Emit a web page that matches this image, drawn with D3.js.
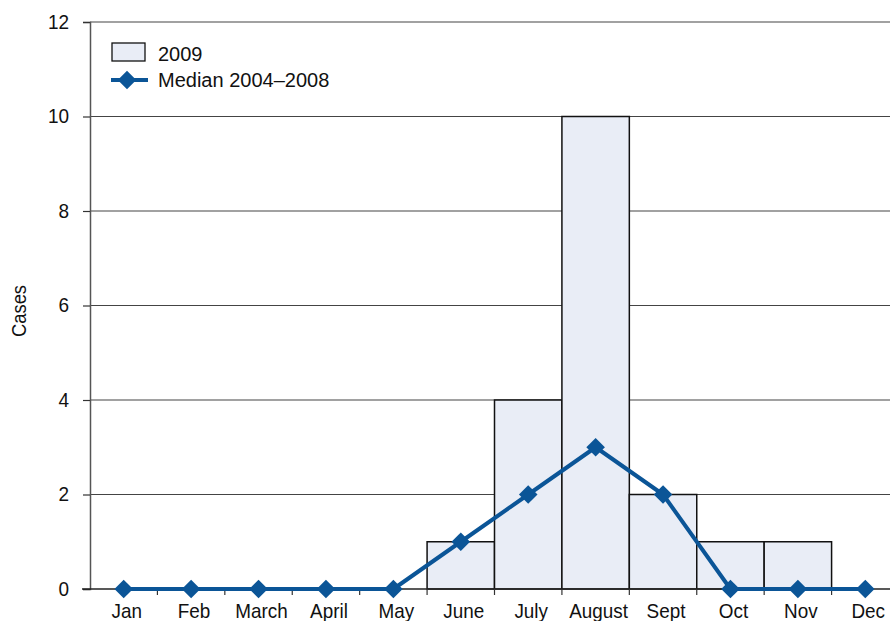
<!DOCTYPE html>
<html><head><meta charset="utf-8">
<script src="https://cdn.jsdelivr.net/npm/d3@7"></script>
<style>
body{margin:0;background:#fff;}
svg{display:block;font-family:"Liberation Sans",Arial,sans-serif;}
</style></head>
<body><svg id="c" width="890" height="621"></svg>
<script>
const months = ["Jan","Feb","March","April","May","June","July","August","Sept","Oct","Nov","Dec"];
const cases2009 = [0,0,0,0,0,1,4,10,2,1,1,0];
const median0408 = [0,0,0,0,0,1,2,3,2,0,0,0];
const yTicks = [0,2,4,6,8,10,12];

(function(){
const svg = d3.select("#c");
const mLeft = 90, mRight = 899, mTop = 22, mBottom = 589;
const x = d3.scaleBand().domain(months).range([mLeft, mRight]).padding(0);
const y = d3.scaleLinear().domain([0,12]).range([mBottom, mTop]);
const lineColor = "#0b5597";

// gridlines
svg.append("g").selectAll("line").data(yTicks.filter(d=>d>0)).join("line")
  .attr("x1", mLeft).attr("x2", 890).attr("y1", d=>y(d)).attr("y2", d=>y(d))
  .attr("stroke", "#444").attr("stroke-width", 1.2);

// bars
svg.append("g").selectAll("rect").data(months.map((m,i)=>({m, v:cases2009[i]})).filter(d=>d.v>0)).join("rect")
  .attr("x", d=>x(d.m)).attr("width", x.bandwidth())
  .attr("y", d=>y(d.v)).attr("height", d=>y(0)-y(d.v))
  .attr("fill", "#e9edf6").attr("stroke", "#111").attr("stroke-width", 1.5);

// y axis
const yAxis = svg.append("g").attr("transform", `translate(${mLeft},0)`)
  .call(d3.axisLeft(y).tickValues(yTicks).tickSize(7).tickPadding(15));
yAxis.select(".domain").attr("stroke", "#555").attr("stroke-width", 1.5);
yAxis.selectAll(".tick line").attr("stroke", "#333").attr("stroke-width", 1.2);
yAxis.selectAll("text").attr("font-size", 20).attr("fill", "#111").attr("font-family", "inherit")
  .attr("transform", "scale(0.95,1)");

// x axis
const xAxis = svg.append("g").attr("transform", `translate(0,${mBottom})`)
  .call(d3.axisBottom(x).tickSize(0).tickPadding(12));
xAxis.select(".domain").remove();
xAxis.selectAll("text").attr("font-size", 21).attr("fill", "#111").attr("font-family", "inherit")
  .attr("y", 29).attr("dy", 0).attr("x", 3.3).attr("transform", "scale(0.9,1)");
svg.append("line").attr("x1", mLeft-8).attr("x2", 890).attr("y1", mBottom).attr("y2", mBottom)
  .attr("stroke", "#222").attr("stroke-width", 1.5);
svg.append("g").selectAll("line").data(months.slice(1)).join("line")
  .attr("x1", d=>x(d)).attr("x2", d=>x(d)).attr("y1", mBottom).attr("y2", mBottom+6)
  .attr("stroke", "#333").attr("stroke-width", 1.2);

// median line
const line = d3.line().x((d,i)=>x(months[i])+x.bandwidth()/2).y(d=>y(d));
svg.append("path").datum(median0408).attr("d", line)
  .attr("fill","none").attr("stroke", lineColor).attr("stroke-width", 4).attr("stroke-linejoin","round");
const diamond = d3.symbol().type(d3.symbolDiamond2).size(220);
svg.append("g").selectAll("path").data(median0408).join("path")
  .attr("transform", (d,i)=>`translate(${x(months[i])+x.bandwidth()/2},${y(d)})`)
  .attr("d", diamond).attr("fill", lineColor);

// y label
svg.append("text").attr("transform", "translate(26,311) rotate(-90) scale(0.92,1)")
  .attr("text-anchor","middle").attr("font-size", 20).attr("fill","#111").text("Cases");

// legend
const lg = svg.append("g");
lg.append("rect").attr("x", 112).attr("y", 43).attr("width", 33).attr("height", 18)
  .attr("fill", "#e9edf6").attr("stroke", "#111").attr("stroke-width", 1.3);
lg.append("text").attr("x", 158).attr("y", 61).attr("font-size", 20).attr("fill","#111").text("2009");
lg.append("line").attr("x1", 111).attr("x2", 148).attr("y1", 80).attr("y2", 80)
  .attr("stroke", lineColor).attr("stroke-width", 4);
lg.append("path").attr("transform","translate(127,80)").attr("d", diamond).attr("fill", lineColor);
lg.append("text").attr("x", 158).attr("y", 87).attr("font-size", 20).attr("fill","#111").text("Median 2004–2008");
})();
</script></body></html>
